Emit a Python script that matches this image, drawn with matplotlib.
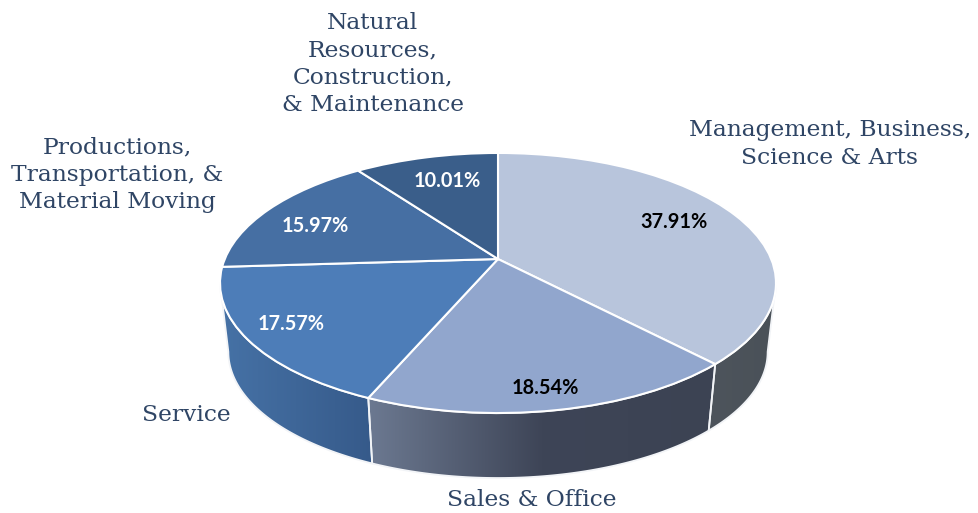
import numpy as np
import matplotlib
matplotlib.use("Agg")
import matplotlib.pyplot as plt
from matplotlib.colors import LinearSegmentedColormap
from matplotlib.patches import PathPatch
from matplotlib.path import Path
from matplotlib.transforms import Transform

categories = ["Management, Business,\nScience & Arts", "Sales & Office", "Service",
              "Productions,\nTransportation, &\nMaterial Moving",
              "Natural\nResources,\nConstruction,\n& Maintenance"]
values = [37.91, 18.54, 17.57, 15.97, 10.01]
top_colors = ["#b8c5dc", "#91a6cd", "#4d7db8", "#466fa3", "#3a5e8a"]
wall_stops = [["#4d545c", "#4a5158"], ["#6c7991", "#3e4557", "#3c4353"], ["#4672a6", "#365a8a"]]
value_colors = ["black", "black", "white", "white", "white"]
value_pos = [(674, 222), (545, 388), (291, 324), (315, 226), (447, 181)]
label_pos = [(830, 144), (532, 500), (186, 415), (117, 175), (373, 64)]

CX, CY, A, B, K = 498.0, 259.0, 125.6, 273.2, 0.1846
DROP, SHRINK = 69.6, 0.97
TEXT = "#2f4565"


def project(u, v, bottom=False):
    d = 1 + K * v
    x, y = B * u / d, -A * v / d
    if bottom:
        return CX + SHRINK * x, CY + DROP + SHRINK * y
    return CX + x, CY + y


class TiltTransform(Transform):
    input_dims = output_dims = 2
    has_inverse = False
    is_affine = False

    def transform_non_affine(self, xy):
        xy = np.asarray(xy, float)
        return np.column_stack(project(xy[:, 0], xy[:, 1]))


fig = plt.figure(figsize=(9.79, 5.13), dpi=100, facecolor="white")
ax = fig.add_axes([0, 0, 1, 1])
wedges, _ = ax.pie(values, colors=top_colors, startangle=90, counterclock=False,
                   wedgeprops=dict(edgecolor="white", linewidth=1.5))
tilt = TiltTransform()
for w in wedges:
    w.set_transform(tilt + ax.transData)
    w.set_zorder(5)
    w.set_clip_on(False)

edges = np.cumsum([0] + values) / sum(values) * 360
hide = np.degrees(np.arcsin(K))
for i, stops in enumerate(wall_stops):
    a0 = max(edges[i], 90 + hide)
    a1 = min(edges[i + 1], 270 - hide)
    t = np.radians(np.linspace(a0, a1, 80))
    xt, yt = project(np.sin(t), np.cos(t))
    xb, yb = project(np.sin(t), np.cos(t), bottom=True)
    vx = np.r_[xt, xb[::-1], xt[0]]
    vy = np.r_[yt, yb[::-1], yt[0]]
    path = Path(np.column_stack([vx, vy]), closed=True)
    grad = np.linspace(0, 1, 256).reshape(1, -1)
    cmap = LinearSegmentedColormap.from_list(f"w{i}", stops)
    im = ax.imshow(grad, cmap=cmap, aspect="auto",
                   extent=(vx.min(), vx.max(), vy.max(), vy.min()),
                   zorder=2, interpolation="bilinear")
    outline = PathPatch(path, transform=ax.transData, facecolor="none",
                        edgecolor="#f2f4f7", linewidth=1.3, zorder=3)
    ax.add_patch(outline)
    im.set_clip_path(outline)

ax.set_aspect("auto")
ax.set_xlim(0, 979)
ax.set_ylim(513, 0)
ax.axis("off")

for val, c, (x, y) in zip(values, value_colors, value_pos):
    ax.text(x, y, f"{val:.2f}%", color=c, family="Lato", weight="bold", fontsize=14.3,
            ha="center", va="center", zorder=6)
for lab, (x, y) in zip(categories, label_pos):
    ax.text(x, y, lab, color=TEXT, family="DejaVu Serif", fontsize=16.8, ha="center",
            va="center", linespacing=1.32, zorder=6)

fig.savefig("out.png", dpi=100, facecolor="white")
